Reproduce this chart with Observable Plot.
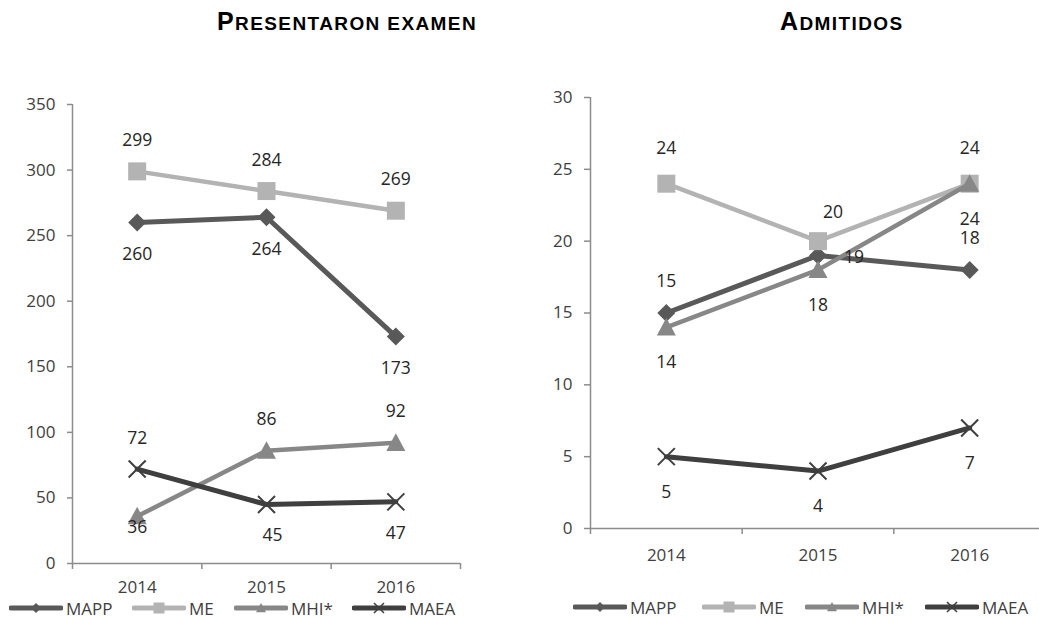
<!DOCTYPE html>
<html><head><meta charset="utf-8">
<script src="https://cdn.jsdelivr.net/npm/d3@7"></script>
<script src="https://cdn.jsdelivr.net/npm/@observablehq/plot@0.6"></script>
<style>
html,body{margin:0;padding:0;background:#fff;}
#wrap{position:relative;width:1039px;height:617px;overflow:hidden;background:#fff;font-family:"Open Sans",sans-serif;}
.title{position:absolute;top:6px;font-family:"Liberation Sans",Arial,sans-serif;font-weight:bold;color:#000;letter-spacing:1.4px;white-space:nowrap;line-height:30px;}
.title .big{font-size:25px}.title .sm{font-size:19px}
.panel{position:absolute;top:0;}
.panel svg{max-width:none !important;display:block;}
.lg{position:absolute;display:flex;align-items:center;font-size:17px;line-height:17px;height:17px;color:#404040;white-space:nowrap;}
.lg svg{display:block;margin-right:3px;flex:none;}
</style>
</head><body>
<div id="wrap">
  <div class="title" style="left:217px"><span class="big">P</span><span class="sm">RESENTARON EXAMEN</span></div>
  <div class="title" style="left:780px"><span class="big">A</span><span class="sm">DMITIDOS</span></div>
  <div id="left" class="panel" style="left:0px;width:520px;height:617px"></div>
  <div id="right" class="panel" style="left:520px;width:530px;height:617px"></div>
</div>
<script>
// ---- data ----
const years = [2014, 2015, 2016];
const seriesNames = ["MAPP", "ME", "MHI*", "MAEA"];

// Presentaron examen
const presMAPP = [260, 264, 173];
const presME   = [299, 284, 269];
const presMHI  = [36, 86, 92];
const presMAEA = [72, 45, 47];
const presTicks = [0, 50, 100, 150, 200, 250, 300, 350];

// Admitidos
const admMAPP = [15, 19, 18];
const admME   = [24, 20, 24];
const admMHI  = [14, 18, 24];
const admMAEA = [5, 4, 7];
const admTicks = [0, 5, 10, 15, 20, 25, 30];

// label placement keywords (per point)
const presPlace = {
  "MAPP": ["below", "below", "below"],
  "ME":   ["above", "above", "above"],
  "MHI*": ["near", "above", "above"],
  "MAEA": ["above", "belowRight", "below"]
};
const admPlace = {
  "MAPP": ["aboveLow", "right", "aboveLow"],
  "ME":   ["above", "aboveRight", "above"],
  "MHI*": ["below", "below", "below"],
  "MAEA": ["below", "below", "below"]
};

// ---- styles ----
const colors = {"MAPP": "#595959", "ME": "#b3b3b3", "MHI*": "#878787", "MAEA": "#3f3f3f"};
const lineW = {"MAPP": 5, "ME": 4.5, "MHI*": 4.5, "MAEA": 5};
const axisColor = "#8c8c8c";
const textColor = "#404040";
const labelColor = "#262626";

const symbols = {
  diamond: {draw(c, size) { const r = Math.sqrt(size / Math.PI); c.moveTo(0, -r); c.lineTo(r, 0); c.lineTo(0, r); c.lineTo(-r, 0); c.closePath(); }},
  square: {draw(c, size) { const r = Math.sqrt(size / Math.PI); c.rect(-r, -r, 2 * r, 2 * r); }},
  triangle: {draw(c, size) { const r = Math.sqrt(size / Math.PI); c.moveTo(0, -r); c.lineTo(r, r * 0.85); c.lineTo(-r, r * 0.85); c.closePath(); }},
  times: {draw(c, size) { const r = Math.sqrt(size / Math.PI); c.moveTo(-r, -r); c.lineTo(r, r); c.moveTo(r, -r); c.lineTo(-r, r); }}
};
const symOf = {"MAPP": "diamond", "ME": "square", "MHI*": "triangle", "MAEA": "times"};
const symR = {"MAPP": 9, "ME": 9, "MHI*": 9.5, "MAEA": 8.5};

function buildRows(vals, place) {
  return seriesNames.flatMap((s, i) => years.map((yr, j) => ({series: s, year: yr, value: vals[i][j], pos: place[s][j]})));
}

function panel(rows, ticks, yMax, dims, offsets) {
  const marks = [
    Plot.ruleX([years[0] - 0.5], {stroke: axisColor, strokeWidth: 1.5}),
    Plot.ruleY([0], {stroke: axisColor, strokeWidth: 1.5}),
    Plot.axisY({ticks, tickSize: dims.yTick, tickPadding: 12, stroke: axisColor, strokeWidth: 1.5, fill: textColor, fontSize: 17, label: null}),
    Plot.axisX({ticks: [years[0] - 0.5, ...years.map(y => y + 0.5)], tickSize: 6, tickFormat: () => "", stroke: axisColor, strokeWidth: 1.5, label: null}),
    Plot.axisX({ticks: years, tickSize: 0, tickPadding: dims.xPad, tickFormat: d => String(d), fill: textColor, fontSize: 17, label: null})
  ];
  for (const s of seriesNames) {
    const d = rows.filter(r => r.series === s);
    marks.push(Plot.line(d, {x: "year", y: "value", stroke: colors[s], strokeWidth: lineW[s], strokeLinejoin: "round", strokeLinecap: "round"}));
    if (s === "MAEA") {
      marks.push(Plot.dot(d, {x: "year", y: "value", symbol: symbols[symOf[s]], r: symR[s], fill: "none", stroke: colors[s], strokeWidth: 2}));
    } else {
      marks.push(Plot.dot(d, {x: "year", y: "value", symbol: symbols[symOf[s]], r: symR[s], fill: colors[s], stroke: "none"}));
    }
  }
  for (const [k, [dx, dy]] of Object.entries(offsets)) {
    const d = rows.filter(r => r.pos === k);
    if (d.length) marks.push(Plot.text(d, {x: "year", y: "value", text: r => String(r.value), dx, dy, fill: labelColor, fontSize: 17.5}));
  }
  return Plot.plot({
    width: dims.width, height: 617,
    marginLeft: dims.ml, marginRight: dims.mr, marginTop: dims.mt, marginBottom: dims.mb,
    x: {domain: [years[0] - 0.5, years[years.length - 1] + 0.5], label: null},
    y: {domain: [0, yMax], label: null},
    style: {fontFamily: "'Open Sans', sans-serif", fontSize: "17px", background: "transparent", overflow: "visible", color: textColor, maxWidth: "none"},
    marks
  });
}

const presRows = buildRows([presMAPP, presME, presMHI, presMAEA], presPlace);
const admRows = buildRows([admMAPP, admME, admMHI, admMAEA], admPlace);

document.getElementById("left").append(panel(presRows, presTicks, 350,
  {width: 520, ml: 72, mr: 60, mt: 104, mb: 54, yTick: 5, xPad: 17},
  {above: [0, -31], below: [0, 32], near: [0, 11], belowRight: [6, 31]}));
document.getElementById("right").append(panel(admRows, admTicks, 30,
  {width: 530, ml: 70, mr: 5, mt: 97, mb: 89, yTick: 6, xPad: 20},
  {above: [0, -35], aboveLow: [0, -32], below: [0, 35.5], right: [36, 2], aboveRight: [15, -29]}));

// legends
function legend(xs, yc) {
  seriesNames.forEach((s, i) => {
    const div = document.createElement("div");
    div.className = "lg";
    div.style.left = xs[i] + "px";
    div.style.top = (yc - 8.5) + "px";
    const w = 54, h = 14;
    const path = d3.symbol(symbols[symOf[s]], Math.PI * (s === "ME" ? 5.5 : 5) ** 2)();
    const mk = s === "MAEA"
      ? `<path d="${path}" transform="translate(${w/2},${h/2})" fill="none" stroke="${colors[s]}" stroke-width="1.5"/>`
      : `<path d="${path}" transform="translate(${w/2},${h/2})" fill="${colors[s]}"/>`;
    div.innerHTML = `<svg width="${w}" height="${h}"><line x1="2" y1="${h/2}" x2="${w-2}" y2="${h/2}" stroke="${colors[s]}" stroke-width="5" stroke-linecap="round"/>${mk}</svg><span>${s}</span>`;
    document.getElementById("wrap").append(div);
  });
}
legend([9, 132, 234, 352], 608);
legend([573, 702, 805, 925], 607);
</script>
</body></html>
